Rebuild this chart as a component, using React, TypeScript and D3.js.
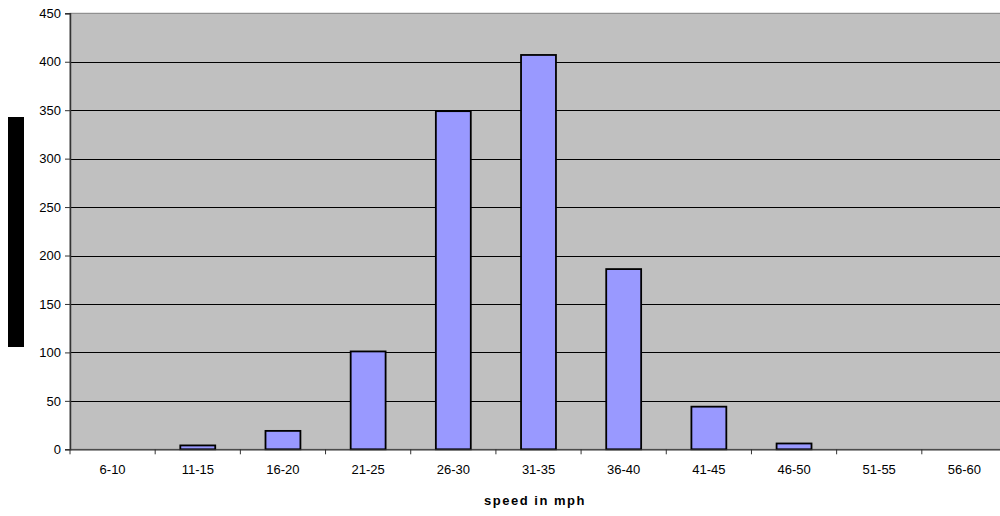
import React, { useEffect, useRef } from "react";
import * as d3 from "d3";

const categories = ["6-10", "11-15", "16-20", "21-25", "26-30", "31-35", "36-40", "41-45", "46-50", "51-55", "56-60"];
const counts = [0, 4, 19, 101, 349, 407, 186, 44, 6, 0, 0];
const yTicks = [0, 50, 100, 150, 200, 250, 300, 350, 400, 450];
const xTitle = "speed in mph";

export default function App() {
  const ref = useRef<SVGSVGElement>(null);

  useEffect(() => {
    const svg = d3.select(ref.current);
    svg.selectAll("*").remove();

    const left = 70, top = 13.3, bottom = 449.3, right = 1007;

    const x = d3.scaleBand().domain(categories).range([left, right]).paddingInner(0).paddingOuter(0);
    const y = d3.scaleLinear().domain([0, 450]).range([bottom, top]);

    // plot background
    svg.append("rect")
      .attr("x", left).attr("y", top)
      .attr("width", right - left).attr("height", bottom - top)
      .attr("fill", "#c0c0c0")
      .attr("stroke", "#808080").attr("stroke-width", 1);

    // gridlines
    svg.append("g")
      .selectAll("line")
      .data(yTicks.filter((t) => t > 0 && t < 450))
      .join("line")
      .attr("x1", left).attr("x2", right)
      .attr("y1", (d) => Math.round(y(d)) + 0.5)
      .attr("y2", (d) => Math.round(y(d)) + 0.5)
      .attr("stroke", "#000").attr("stroke-width", 1);

    // bars
    const bw = x.bandwidth() * 0.41;
    svg.append("g")
      .selectAll("rect")
      .data(categories.map((c, i) => ({ c, v: counts[i] })).filter((d) => d.v > 0))
      .join("rect")
      .attr("x", (d) => x(d.c)! + x.bandwidth() / 2 - bw / 2)
      .attr("y", (d) => y(d.v))
      .attr("width", bw)
      .attr("height", (d) => bottom - y(d.v))
      .attr("fill", "#9999ff")
      .attr("stroke", "#000").attr("stroke-width", 1.8);

    // y axis
    const yAxis = svg.append("g")
      .attr("transform", `translate(${left},0)`)
      .call(d3.axisLeft(y).tickValues(yTicks).tickSize(5).tickPadding(4));
    yAxis.select(".domain").attr("stroke", "#333").attr("stroke-width", 1.5);
    yAxis.selectAll(".tick line").attr("stroke", "#333");
    yAxis.selectAll("text")
      .attr("font-family", "Arial, 'Liberation Sans', sans-serif")
      .attr("font-size", 13).attr("fill", "#000");

    // x axis
    const xAxis = svg.append("g")
      .attr("transform", `translate(0,${bottom})`)
      .call(d3.axisBottom(x).tickSize(0).tickPadding(15));
    xAxis.select(".domain").attr("stroke", "#333").attr("stroke-width", 1.2);
    xAxis.selectAll("text")
      .attr("font-family", "Arial, 'Liberation Sans', sans-serif")
      .attr("font-size", 13).attr("fill", "#000");
    svg.append("g")
      .selectAll("line")
      .data(categories)
      .join("line")
      .attr("x1", (d) => x(d)!).attr("x2", (d) => x(d)!)
      .attr("y1", bottom).attr("y2", bottom + 5)
      .attr("stroke", "#333");

    // x title
    svg.append("text")
      .attr("x", 535).attr("y", 505)
      .attr("text-anchor", "middle")
      .attr("font-family", "Arial, 'Liberation Sans', sans-serif")
      .attr("font-size", 13).attr("font-weight", "bold")
      .attr("letter-spacing", 1.5)
      .text(xTitle);

    // y title block (rendered as solid box)
    svg.append("rect")
      .attr("x", 8).attr("y", 117)
      .attr("width", 16).attr("height", 230)
      .attr("fill", "#000");
  }, []);

  return (
    <svg ref={ref} width={1000} height={516}
      style={{ position: "absolute", left: 0, top: 0, background: "#fff" }} />
  );
}
